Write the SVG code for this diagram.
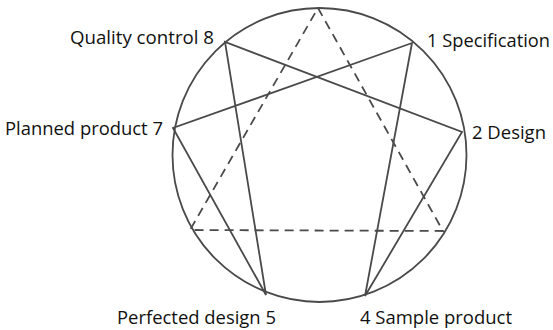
<svg xmlns="http://www.w3.org/2000/svg" width="553" height="330" viewBox="0 0 553 330">
<style>
.l{stroke:#4a4a4a;stroke-width:1.8;fill:none;stroke-linecap:round}
.d{stroke-dasharray:9 6;stroke-linecap:butt}
text{font-family:"Open Sans","Liberation Sans",sans-serif;font-size:18px;fill:#111}
</style>
<rect width="553" height="330" fill="#fff"/>
<g id="circle"><circle class="l" cx="319.5" cy="155" r="147" stroke-width="2.2"/></g>
<g id="connectors">
<polyline class="l d" points="318,8 443,231 190,230 318,8"/>
<polygon class="l" points="412,43 365,296 462,132 225,42 266,295 173,128"/>
</g>
<g id="n1"><text x="427" y="47" textLength="123" lengthAdjust="spacingAndGlyphs">1 Specification</text></g>
<g id="n2"><text x="472" y="139" textLength="74" lengthAdjust="spacingAndGlyphs">2 Design</text></g>
<g id="n4"><text x="360" y="324" textLength="152" lengthAdjust="spacingAndGlyphs">4 Sample product</text></g>
<g id="n5"><text x="117" y="324" textLength="159" lengthAdjust="spacingAndGlyphs">Perfected design 5</text></g>
<g id="n7"><text x="5" y="135" textLength="158" lengthAdjust="spacingAndGlyphs">Planned product 7</text></g>
<g id="n8"><text x="70" y="44" textLength="144" lengthAdjust="spacingAndGlyphs">Quality control 8</text></g>
</svg>
